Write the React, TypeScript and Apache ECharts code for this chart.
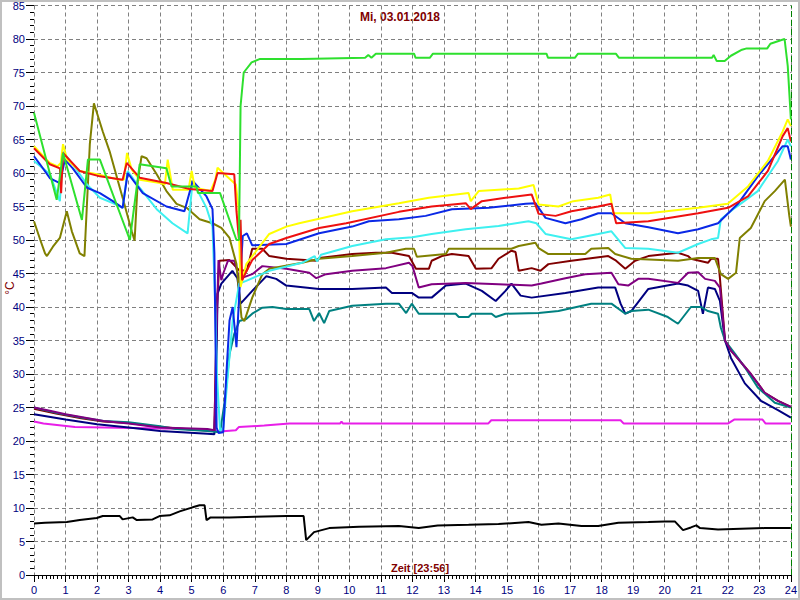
import React, { useEffect, useRef } from "react";
import * as echarts from "echarts";

const titleText = "Mi, 03.01.2018";
const xAxisName = "Zeit [23:56]";
const yAxisName = "°C";
const nowHour = 24;

const green: number[][] = [[0,69],[0.72,56],[0.92,63],[1.52,53],[1.71,62],[2.09,62],[3.04,50],[3.35,61.3],[4.2,60.7],[4.36,58],[5.15,58],[5.2,57],[5.9,57],[6.42,50],[6.5,50],[6.55,70],[6.65,75],[6.9,76.5],[7.15,77],[8.5,77],[10.5,77.2],[10.6,77.6],[10.7,77.2],[10.84,77.8],[12.05,77.8],[12.1,77.2],[12.55,77.2],[12.65,77.8],[16.25,77.8],[16.3,77.2],[17.15,77.2],[17.25,77.8],[18.45,77.8],[18.55,77.2],[21.5,77.2],[21.55,77.6],[21.65,76.7],[21.9,76.7],[22.1,77.5],[22.45,78.4],[22.6,78.6],[23.25,78.6],[23.35,79.3],[23.8,80],[23.9,76],[24,68]];
const yellow: number[][] = [[0,64],[0.2,63],[0.5,61.5],[0.75,61],[0.85,61.5],[0.92,64.3],[1.05,62],[1.45,60.3],[2,59.8],[2.7,59],[2.85,59],[2.95,63],[3.1,60.5],[3.35,59],[4.0,58.5],[4.15,58.3],[4.24,62],[4.4,57.5],[4.9,57.5],[5.0,60.3],[5.1,57.8],[5.6,57.3],[5.75,59],[5.82,60.8],[6.0,60],[6.4,58.3],[6.48,55],[6.55,43],[6.73,46.4],[7.46,50.9],[8.0,52],[8.41,52.5],[10.09,54.3],[11.57,55.5],[12.52,56.3],[13.78,57],[13.85,55.8],[14.1,57.3],[15.37,57.7],[15.84,58.2],[16.0,55.3],[16.63,55],[17.1,55.8],[17.89,56.3],[18.27,56.8],[18.37,54],[19.48,54],[21.06,54.8],[22.0,55.4],[22.64,58],[23.27,61.8],[23.74,66.2],[23.9,68],[24,67]];
const red: number[][] = [[0,63.7],[0.5,61.3],[0.82,60.7],[0.86,57],[0.92,63],[1.45,60.3],[2.09,59.5],[2.81,59],[2.94,61.5],[3.35,59.3],[4.2,58.5],[4.93,57.6],[5.66,57.3],[5.82,60],[6.35,59.8],[6.42,54.3],[6.5,50],[6.55,53],[6.6,44],[6.7,45],[6.92,47],[7.46,49.4],[8.0,50.3],[9.04,51.8],[9.9,52.5],[11.57,54.2],[12.61,55],[13.69,55.5],[13.85,54.6],[14.2,55.8],[14.95,56.3],[15.78,56.8],[16.0,53.9],[16.54,53.6],[17.04,54.3],[17.89,55],[18.31,55.4],[18.46,52.5],[19.48,52.8],[21.06,54],[22.01,54.8],[22.64,56.5],[23.27,60.3],[23.74,65.5],[23.9,66.7],[24,64.7]];
const blue: number[][] = [[0,62.5],[0.19,61.3],[0.51,59.2],[0.82,58.5],[0.98,62],[1.23,60.7],[1.68,57.8],[2.09,57],[2.5,55.8],[2.81,54.8],[2.97,60],[3.45,57],[4.2,55],[4.77,54.3],[5.03,58.8],[5.47,56.5],[5.66,54.6],[5.72,48],[5.79,22],[5.85,21.2],[6.0,21.3],[6.1,30],[6.2,38],[6.3,40],[6.42,34],[6.51,42],[6.62,50.6],[6.75,51],[6.92,49.2],[8.0,49.4],[9.04,51],[10.09,52],[10.62,52.8],[11.57,53.1],[12.42,53.6],[13.25,54.6],[14.42,54.8],[15.59,55.4],[15.9,55.5],[16.22,53.3],[16.85,52.5],[17.36,53.1],[17.89,54],[18.31,54],[18.75,52.5],[19.48,51.9],[20.42,51],[21.06,51.6],[21.69,52.5],[22.32,55.4],[22.95,59.5],[23.74,64],[23.9,64],[24,62]];
const cyan: number[][] = [[0,61.8],[0.51,59.8],[0.76,56.5],[0.82,55.8],[0.92,63.2],[1.23,61.3],[1.68,58.3],[2.09,56.3],[2.5,55.5],[2.81,54.8],[2.97,60.3],[3.35,57.8],[3.89,54.6],[4.39,52.5],[4.87,51],[5.03,58.8],[5.47,54.8],[5.66,52],[5.75,40],[5.8,30],[5.9,21.5],[6.0,22],[6.15,30],[6.3,38],[6.51,43.5],[6.73,43.9],[7.46,45.4],[8.5,46.6],[8.9,47.6],[8.97,46.8],[9.1,47.8],[10.09,49.1],[11.16,50.1],[12.0,50.4],[12.61,50.9],[13.69,51.6],[14.73,52.1],[15.68,52.8],[15.93,52.5],[16.22,50.9],[17.04,50.1],[17.89,50.9],[18.31,51.3],[18.75,48.8],[19.48,48.7],[20.42,48.1],[21.06,49.4],[21.47,50.1],[21.69,50.3],[21.78,53.1],[22.23,54.8],[22.95,57.3],[23.59,61.8],[23.9,65],[24,64]];
const olive: number[][] = [[0,52.8],[0.2,50],[0.35,48],[0.41,47.6],[0.6,49],[0.82,50.3],[1.04,54.3],[1.2,51.3],[1.45,48],[1.6,47.6],[1.77,64.3],[1.9,70.4],[2.18,66.2],[2.4,63.2],[2.81,56.3],[3.1,51.3],[3.19,49.9],[3.29,58.8],[3.41,62.5],[3.57,62.2],[3.89,59.8],[4.2,57.3],[4.52,55.4],[4.84,54.8],[5.25,53.1],[5.66,52.5],[5.94,51.8],[6.2,50.3],[6.42,46.4],[6.58,38.4],[6.67,37.9],[6.92,41.4],[7.24,44.9],[7.46,45.7],[8.5,46.6],[9.04,47.2],[10.09,47.6],[11.16,48.1],[11.79,48.7],[12.05,48.7],[12.14,47.5],[13.06,47.9],[13.15,48.7],[15.14,48.7],[15.37,49.1],[15.9,49.6],[16.0,48.8],[16.31,47.9],[17.48,47.9],[17.67,48.7],[18.21,48.8],[18.43,47.9],[18.94,47.2],[20.42,46.9],[21.06,47.3],[21.59,47.3],[21.78,44.9],[22.01,44.2],[22.26,45.1],[22.38,50.3],[22.73,51.8],[23.17,55.8],[23.49,57.3],[23.81,59],[23.95,53.6],[24,52]];
const maroon: number[][] = [[0,24.8],[0.7,24.1],[1.5,23.4],[2.2,22.9],[3,22.7],[4,22.1],[5,21.7],[5.72,21.5],[5.8,40],[5.88,46.9],[6.2,47],[6.5,45.5],[6.75,45.4],[6.92,48.7],[7.24,48.7],[7.46,47.6],[8.0,47.2],[8.95,46.9],[9.04,47.3],[10.09,47.9],[10.84,48.1],[11.35,48.1],[11.89,47.6],[12.11,45.7],[12.52,45.7],[12.61,46.9],[12.93,47.6],[13.25,47.9],[13.78,47.6],[14.01,45.7],[14.51,45.8],[14.73,47.2],[15.14,48.4],[15.27,48.2],[15.37,45.4],[15.78,45.8],[16.06,45.4],[16.31,46.4],[17.04,46.9],[18.21,47.6],[18.43,47],[18.75,45.7],[19.06,46.9],[19.48,47.6],[20.42,48.1],[20.74,47.6],[20.83,47.2],[21.37,46.6],[21.47,47.2],[21.69,47.2],[21.75,44.3],[21.91,35],[22.1,33.5],[22.32,32.3],[22.73,30],[23.17,27.2],[23.59,26],[24,25.1]];
const purple: number[][] = [[0,25],[0.5,24.5],[1,24],[2.2,23],[3,22.6],[4,22],[5.5,21.8],[5.72,21.6],[5.78,35],[5.85,47],[5.94,44],[6.0,45],[6.15,46.9],[6.35,46.9],[6.51,44.2],[6.92,44.9],[7.24,46.1],[8.0,45.7],[8.73,45.1],[8.95,44.3],[9.26,44.9],[10.09,45.4],[11.16,45.8],[11.89,46.6],[12.0,46.1],[12.2,42.9],[12.61,43.4],[13.69,43.6],[14.73,43.4],[15.78,43.2],[16.09,43.5],[16.85,44.3],[17.48,44.9],[18.31,45.1],[18.53,43.4],[18.84,43.2],[19.16,44.2],[19.48,44.2],[20.42,43.6],[20.74,45.1],[21.06,45.2],[21.28,44.2],[21.59,43.9],[21.75,42.9],[21.91,35],[22.1,33.5],[22.32,32.3],[22.73,30],[23.17,27.2],[23.59,26],[24,25.1]];
const navy: number[][] = [[0,24],[1,23.2],[2,22.5],[3,22],[4,21.5],[5.5,21.1],[5.72,21],[5.78,30],[5.82,42],[5.94,43.5],[6.29,45.4],[6.45,44.3],[6.55,40.5],[6.92,42.4],[7.37,44.6],[7.68,44.2],[8.0,43.2],[9.04,42.7],[10.09,42.7],[11.16,42.9],[11.35,42.1],[11.98,42.1],[12.2,41.4],[12.61,41.4],[13.06,43.2],[13.69,43.5],[14.2,42.4],[14.64,40.9],[14.95,42.4],[15.14,43.5],[15.43,41.7],[15.78,41.4],[16.85,42.1],[17.89,42.9],[18.43,42.9],[18.6,40.5],[18.75,39],[18.94,39.4],[19.48,42.7],[20.42,43.5],[20.74,43.2],[21.06,42.4],[21.21,39],[21.37,42.9],[21.59,42.7],[21.75,40.9],[21.91,35],[22.1,32.4],[22.54,28.6],[23.05,26],[23.59,24.6],[24,23.5]];
const teal: number[][] = [[0,25],[0.7,24.2],[1.5,23.5],[2.2,23],[3,22.8],[4,22.2],[4.5,21.8],[5.5,21.5],[5.9,21.3],[6.05,26],[6.2,33],[6.35,36],[6.51,37.9],[6.73,38.2],[6.92,39],[7.24,39.9],[7.56,40],[8.0,39.7],[8.73,39.7],[8.88,37.9],[9.04,39.1],[9.2,37.6],[9.36,39.4],[10.09,40.2],[11.16,40.5],[11.57,40.5],[11.8,39.1],[11.98,40.5],[12.2,39],[13.37,39],[13.47,38.5],[13.78,38.5],[13.88,39],[14.51,39],[14.64,38.5],[14.95,39],[16.0,39.1],[16.63,39.4],[17.67,40.5],[18.31,40.5],[18.75,39],[18.94,39.4],[19.48,39.6],[20.1,38.5],[20.42,37.5],[20.83,40],[21.15,40],[21.37,39.4],[21.69,39],[21.78,36.9],[21.91,35],[22.23,33],[22.54,31],[22.95,28],[23.49,25.7],[24,25]];
const magenta: number[][] = [[0,22.9],[0.3,22.6],[1.3,22.1],[5,21.8],[5.9,21.4],[6.4,21.6],[6.5,22.1],[7.3,22.3],[8.1,22.6],[9.7,22.6],[9.75,22.9],[9.8,22.6],[14.4,22.6],[14.5,23.1],[18.6,23.1],[18.7,22.6],[22.0,22.6],[22.2,23.2],[23.1,23.2],[23.2,22.6],[24,22.6]];
const black: number[][] = [[0,7.7],[0.35,7.8],[1.04,7.9],[1.45,8.2],[1.99,8.5],[2.18,8.8],[2.72,8.8],[2.81,8.3],[3.13,8.6],[3.26,8.2],[3.76,8.3],[3.98,8.8],[4.3,8.9],[4.62,9.5],[5.03,10.1],[5.25,10.4],[5.41,10.4],[5.47,8.2],[5.6,8.6],[6.2,8.6],[7,8.7],[8.0,8.8],[8.55,8.8],[8.63,5.2],[8.88,6.4],[9.36,7],[10.31,7.2],[11.57,7.3],[12.2,7],[12.8,7.4],[13.78,7.5],[14.73,7.6],[15.68,7.9],[16.09,7.5],[16.63,7.7],[17.36,7.3],[17.89,7.3],[18.53,7.8],[19.48,7.9],[20.0,8.0],[20.32,8.0],[20.58,6.7],[20.83,7.1],[21.0,7.4],[21.12,7],[21.69,6.8],[23.17,7],[24,7]];

const seriesList: { name: string; color: string; data: number[][] }[] = [
  { name: "maroon", color: "#800000", data: maroon },
  { name: "black", color: "#000000", data: black },
  { name: "magenta", color: "#e81ee8", data: magenta },
  { name: "navy", color: "#000080", data: navy },
  { name: "teal", color: "#008080", data: teal },
  { name: "purple", color: "#800080", data: purple },
  { name: "olive", color: "#808000", data: olive },
  { name: "cyan", color: "#3ef0f0", data: cyan },
  { name: "blue", color: "#0a28e6", data: blue },
  { name: "yellow", color: "#ffff00", data: yellow },
  { name: "red", color: "#ee1010", data: red },
  { name: "green", color: "#2ee02e", data: green },
];

export default function App() {
  const ref = useRef<HTMLDivElement>(null);
  useEffect(() => {
    if (!ref.current) return;
    const chart = echarts.init(ref.current, undefined, { renderer: "svg" });
    const font = "Arial, 'Liberation Sans', sans-serif";
    const series: any[] = seriesList.map((s) => ({
      name: s.name,
      type: "line",
      data: s.data,
      showSymbol: false,
      symbol: "none",
      lineStyle: { color: s.color, width: 2 },
      itemStyle: { color: s.color },
      emphasis: { disabled: true },
    }));
    series[0].markLine = {
      silent: true,
      symbol: "none",
      label: { show: false },
      lineStyle: { color: "#008000", type: [6, 3], width: 1 },
      data: [{ xAxis: nowHour }],
    };
    chart.setOption({
      animation: false,
      backgroundColor: "#ffffff",
      grid: { left: 34, right: 7, top: 4, bottom: 25, containLabel: false },
      xAxis: {
        type: "value",
        min: 0,
        max: 24,
        interval: 1,
        axisLine: { show: true, lineStyle: { color: "#000000", width: 1 } },
        axisTick: { show: true, length: 7, lineStyle: { color: "#000000" } },
        minorTick: { show: true, splitNumber: 8, length: 4, lineStyle: { color: "#000000" } },
        axisLabel: { color: "#000080", fontSize: 11, fontFamily: font, margin: 9 },
        splitLine: { show: true, lineStyle: { color: "#808080", type: [4, 3], width: 1 } },
      },
      yAxis: {
        type: "value",
        min: 0,
        max: 85,
        interval: 5,
        axisLine: { show: false },
        axisTick: { show: true, length: 8, lineStyle: { color: "#000000" } },
        minorTick: { show: true, splitNumber: 5, length: 4, lineStyle: { color: "#000000" } },
        axisLabel: { color: "#000080", fontSize: 11, fontFamily: font, margin: 9 },
        splitLine: { show: true, lineStyle: { color: "#808080", type: [4, 3], width: 1 } },
      },
      graphic: [
        {
          type: "rect",
          shape: { x: 1, y: 1, width: 798, height: 598 },
          style: { fill: "none", stroke: "#c0c0c0", lineWidth: 2 },
          silent: true,
        },
        {
          type: "text",
          x: 400,
          y: 17,
          style: { text: titleText, fill: "#800000", font: "bold 12px " + font, textAlign: "center", textVerticalAlign: "middle" },
        },
        {
          type: "text",
          x: 420,
          y: 568,
          style: { text: xAxisName, fill: "#800000", font: "bold 11px " + font, textAlign: "center", textVerticalAlign: "middle" },
        },
        {
          type: "text",
          x: 10,
          y: 288,
          rotation: Math.PI / 2,
          style: { text: yAxisName, fill: "#800000", font: "12px " + font, textAlign: "center", textVerticalAlign: "middle" },
        },
      ],
      series,
    });
    return () => chart.dispose();
  }, []);
  return <div ref={ref} style={{ position: "fixed", left: 0, top: 0, width: 800, height: 600 }} />;
}
